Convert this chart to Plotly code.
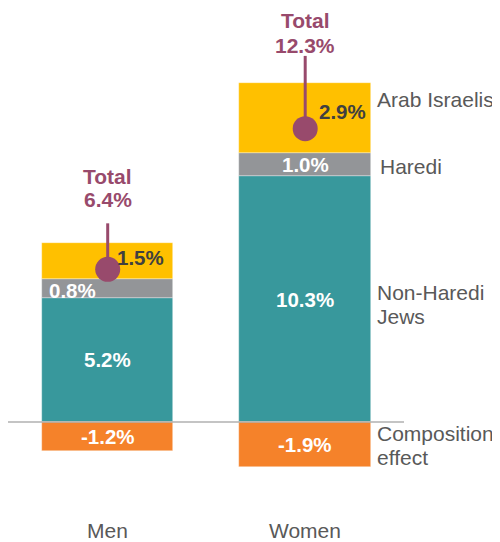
import numpy as np
import plotly.graph_objects as go

# ---------------- data ----------------
categories = ["Men", "Women"]
non_haredi = [5.2, 10.3]
haredi = [0.8, 1.0]
arab = [1.5, 2.9]
composition = [-1.2, -1.9]
totals = [6.4, 12.3]
series_labels = ["Non-Haredi<br>Jews", "Haredi", "Arab Israelis", "Composition<br>effect"]

# ---------------- style ----------------
C_TEAL = "#38989C"
C_GRAY = "#939598"
C_YELLOW = "#FFC000"
C_ORANGE = "#F5822A"
C_PURPLE = "#984A6C"
C_DARK = "#404040"
C_LABEL = "#595959"
FONT = "Liberation Sans, Arial, sans-serif"

# the page body has an 8px margin, so the figure is 8px smaller than the window
W, H = 492, 534
BAR_W = 0.666
PX_PER_X = 197.5
X0_PX = 99.7           # pixel centre of the first bar
ZERO_PX = 414.0        # pixel row of value 0
PX_PER_Y = 23.85
X_RANGE = [-X0_PX / PX_PER_X, (W - X0_PX) / PX_PER_X]
Y_RANGE = [-(H - ZERO_PX) / PX_PER_Y, ZERO_PX / PX_PER_Y]

x = np.arange(len(categories))

fig = go.Figure()
series = [(non_haredi, C_TEAL), (haredi, C_GRAY), (arab, C_YELLOW), (composition, C_ORANGE)]
for (vals, col), name in zip(series, series_labels):
    fig.add_trace(go.Bar(
        x=x, y=vals, width=BAR_W,
        marker=dict(color=col, line=dict(color="rgba(255,255,255,0.6)", width=0.6)),
        name=name.replace("<br>", " "), hoverinfo="skip", showlegend=False,
    ))

# stems + dots for totals
stem_top = [8.33, 15.35]
sx, sy = [], []
for i in range(len(categories)):
    sx += [x[i], x[i], None]
    sy += [totals[i], stem_top[i], None]
fig.add_trace(go.Scatter(x=sx, y=sy, mode="lines", line=dict(color=C_PURPLE, width=3),
                         hoverinfo="skip", showlegend=False))
fig.add_trace(go.Scatter(x=x, y=totals, mode="markers", marker=dict(color=C_PURPLE, size=25),
                         hoverinfo="skip", showlegend=False))

ann = []
def add(xv, yv, text, color, size=20.5, bold=True, xanchor="center", xshift=0, yshift=0,
        xref="x", yref="y", yanchor="middle"):
    t = f"<b>{text}</b>" if bold else text
    ann.append(dict(x=xv, y=yv, xref=xref, yref=yref, text=t, showarrow=False,
                    font=dict(family=FONT, size=size, color=color),
                    xanchor=xanchor, yanchor=yanchor, xshift=xshift, yshift=yshift))

n = np.array(non_haredi); h = np.array(haredi); a = np.array(arab); c = np.array(composition)
mid_teal = n / 2
mid_gray = n + h / 2
mid_yel = n + h + a / 2
mid_or = c / 2
half = BAR_W / 2

for i in range(len(categories)):
    add(x[i], mid_teal[i], f"{non_haredi[i]:.1f}%", "white")
    add(x[i], mid_or[i], f"{composition[i]:.1f}%", "white")

# gray labels
add(x[0] - half, mid_gray[0], f"{haredi[0]:.1f}%", "white", xanchor="left", xshift=5, yshift=-2)
add(x[1], mid_gray[1], f"{haredi[1]:.1f}%", "white")
# yellow labels
add(x[0] + half, mid_yel[0], f"{arab[0]:.1f}%", C_DARK, xanchor="right", xshift=-7, yshift=4)
add(x[1] + half, mid_yel[1], f"{arab[1]:.1f}%", C_DARK, xanchor="right", xshift=-3, yshift=6)

# total labels
total_shift_title = [46.6, 35.2]
total_shift_value = [24.3, 10.2]
for i in range(len(categories)):
    add(x[i], stem_top[i], "Total", C_PURPLE, size=21, yshift=total_shift_title[i])
    add(x[i], stem_top[i], f"{totals[i]:.1f}%", C_PURPLE, size=21, yshift=total_shift_value[i])

# right-side series labels (next to Women bar)
rx = x[1] + half
right_mids = [mid_teal[1], mid_gray[1], mid_yel[1], mid_or[1]]
right_shift = [-5.5, -2, 18, -0.6]
right_xshift = [4, 7, 4, 4]
LINE = 24
for lab, ym, ys, xs in zip(series_labels, right_mids, right_shift, right_xshift):
    lines = lab.split("<br>")
    k = len(lines)
    for j, ln in enumerate(lines):
        off = ((k - 1) / 2 - j) * LINE
        add(rx, ym, ln, C_LABEL, size=21, bold=False, xanchor="left", xshift=xs, yshift=ys + off)

# category labels
for i, cat in enumerate(categories):
    add(x[i], 0, cat, C_LABEL, size=21, bold=False, yref="paper", yshift=12)

fig.update_layout(
    width=W, height=H, margin=dict(l=0, r=0, t=0, b=0),
    paper_bgcolor="white", plot_bgcolor="white",
    barmode="relative", bargap=0,
    xaxis=dict(range=X_RANGE, visible=False, fixedrange=True),
    yaxis=dict(range=Y_RANGE, visible=False, fixedrange=True),
    annotations=ann,
    shapes=[dict(type="line", xref="x", yref="y", x0=(0 - X0_PX) / PX_PER_X, x1=(396 - X0_PX) / PX_PER_X,
                 y0=0, y1=0, line=dict(color="#B0B0B0", width=1.5), layer="above")],
    showlegend=False,
)

fig.write_html("out.html")
